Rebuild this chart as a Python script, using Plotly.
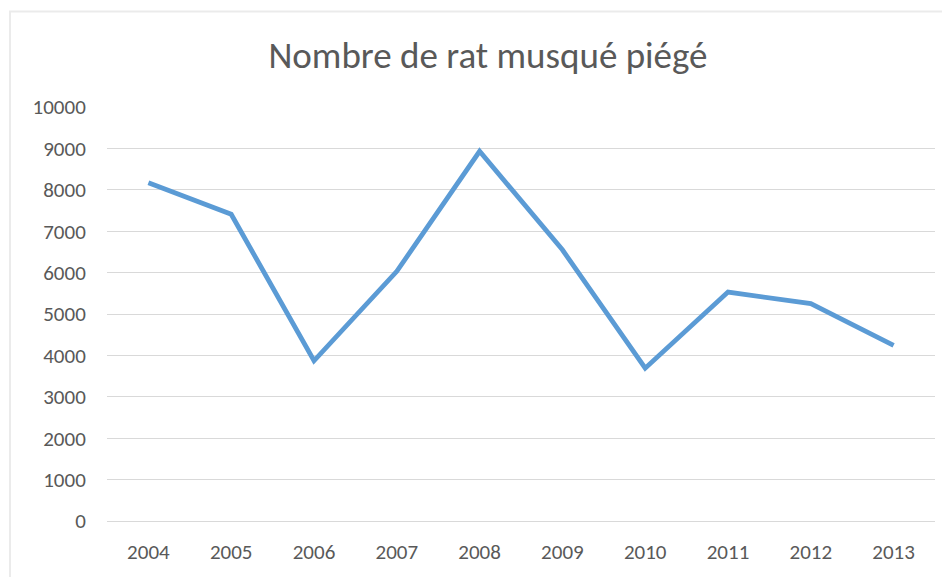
import plotly.graph_objects as go

years = [2004, 2005, 2006, 2007, 2008, 2009, 2010, 2011, 2012, 2013]
rats = [8170, 7410, 3870, 6030, 8930, 6550, 3690, 5530, 5250, 4240]
y_ticks = [0, 1000, 2000, 3000, 4000, 5000, 6000, 7000, 8000, 9000, 10000]
title_text = "Nombre de rat musqué piégé"

FONT = "Carlito, Lato, 'Open Sans', sans-serif"
GRAY = "#595959"
GRID = "#D9D9D9"

fig = go.Figure()
fig.add_trace(go.Scatter(
    x=years, y=rats, mode="lines",
    line=dict(color="#5B9BD5", width=4.8),
    hoverinfo="x+y", showlegend=False,
))

OFF = 8  # page body margin
W, H = 950 - OFF, 577 - OFF
L, R, T, B = 107 - OFF, 15, 107 - OFF, 49
pw, ph = W - L - R, H - T - B

def px_x(p):
    return (p - OFF - L) / pw

def px_y(p):
    return (H - B - (p - OFF)) / ph

fig.update_layout(
    width=W, height=H,
    margin=dict(l=L, r=R, t=T, b=B),
    paper_bgcolor="white", plot_bgcolor="white",
    title=dict(text=title_text, x=(488 - OFF) / W, xanchor="center",
               y=1 - (55 - OFF) / H, yanchor="middle", yref="container",
               font=dict(family=FONT, size=37, color=GRAY)),
    xaxis=dict(range=[2003.5, 2013.5], tickmode="array", tickvals=years,
               ticktext=[str(y) for y in years],
               showgrid=False, zeroline=False, showline=True,
               linecolor=GRID, linewidth=1.3,
               ticks="outside", ticklen=12, tickcolor="rgba(0,0,0,0)",
               tickfont=dict(family=FONT, size=21, color=GRAY)),
    yaxis=dict(range=[0, 10000], tickmode="array", tickvals=y_ticks,
               ticktext=[str(v) for v in y_ticks],
               showgrid=True, gridcolor=GRID, gridwidth=1.3, zeroline=False,
               showline=False,
               ticks="outside", ticklen=16, tickcolor="rgba(0,0,0,0)",
               tickfont=dict(family=FONT, size=21, color=GRAY)),
    shapes=[dict(type="rect", xref="paper", yref="paper",
                 x0=px_x(10), x1=px_x(990), y0=px_y(620), y1=px_y(10),
                 line=dict(color="#EBEBEB", width=2), layer="below")],
)

fig.write_html("out.html")
